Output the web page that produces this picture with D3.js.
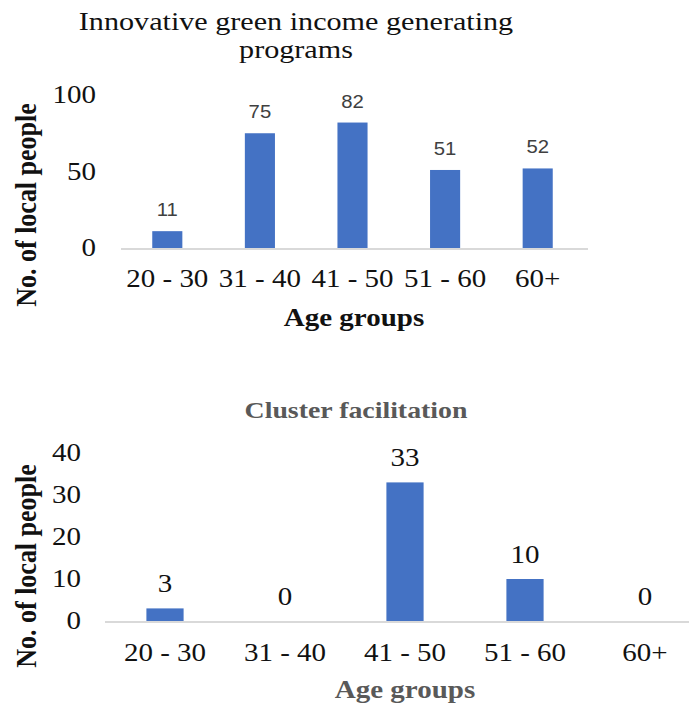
<!DOCTYPE html>
<html>
<head>
<meta charset="utf-8">
<script src="https://cdn.jsdelivr.net/npm/d3@7"></script>
<style>
  body { margin: 0; background: #fff; }
  svg { display: block; }
</style>
</head>
<body>
<div id="chart"></div>
<script>
const categories = ["20 - 30", "31 - 40", "41 - 50", "51 - 60", "60+"];
const greenIncomeValues = [11, 75, 82, 51, 52];
const clusterValues = [3, 0, 33, 10, 0];
const greenIncomeTicks = [0, 50, 100];
const clusterTicks = [0, 10, 20, 30, 40];
const titleTop = ["Innovative green income generating", "programs"];
const titleBottom = "Cluster facilitation";
const xTitle = "Age groups";
const yTitle = "No. of local people";

const W = 689, H = 706;
const SX = 1.16; // horizontal stretch of the reference's lettering
const svg = d3.select("#chart").append("svg").attr("width", W).attr("height", H);
const serif = "Liberation Serif";
const sans = "Liberation Sans";
const blue = "#4472C4";

// text placed at (x,y) with horizontal stretch
function stretchedText(g, x, y, txt) {
  return g.append("text").attr("transform", `translate(${x},${y}) scale(${SX},1)`).text(txt);
}

// ---------- Top chart ----------
(function () {
  const x = d3.scaleBand().domain(categories).range([121, 584]).paddingInner(0.675).paddingOuter(0.3375);
  const y = d3.scaleLinear().domain([0, 100]).range([248, 95]);
  const g = svg.append("g");

  titleTop.forEach((t, i) => {
    stretchedText(g, 296, 30 + i * 28, t)
      .attr("text-anchor", "middle").attr("font-family", serif).attr("font-size", 26).attr("fill", "#111");
  });

  const yAxis = d3.axisLeft(y).tickValues(greenIncomeTicks).tickSize(0).tickPadding(0).tickFormat(d3.format("d"));
  const ya = g.append("g").attr("transform", "translate(96,0)").call(yAxis);
  ya.select(".domain").remove();
  ya.selectAll("text").attr("font-family", serif).attr("font-size", 25).attr("fill", "#111")
    .attr("dy", "0.3em").attr("transform", `scale(${SX},1)`);

  g.selectAll("rect").data(greenIncomeValues).join("rect")
    .attr("x", (d, i) => x(categories[i])).attr("width", x.bandwidth())
    .attr("y", d => y(d)).attr("height", d => y(0) - y(d)).attr("fill", blue);

  g.append("line").attr("x1", 121).attr("x2", 588).attr("y1", y(0) + 1).attr("y2", y(0) + 1)
    .attr("stroke", "#d9d9d9").attr("stroke-width", 2);

  const xAxis = d3.axisBottom(x).tickSize(0).tickPadding(0);
  const xa = g.append("g").attr("transform", `translate(0,${y(0)})`).call(xAxis);
  xa.select(".domain").remove();
  xa.selectAll("text").attr("font-family", serif).attr("font-size", 25).attr("fill", "#111")
    .attr("dy", "1.55em").attr("transform", `scale(${SX},1)`);

  greenIncomeValues.forEach((d, i) => {
    stretchedText(g, x(categories[i]) + x.bandwidth() / 2, y(d) - 15, d)
      .attr("text-anchor", "middle").attr("font-family", sans).attr("font-size", 17.5).attr("fill", "#404040");
  });

  stretchedText(g, 354, 326, xTitle).attr("text-anchor", "middle")
    .attr("font-family", serif).attr("font-weight", "bold").attr("font-size", 25).attr("fill", "#111");

  g.append("text").attr("transform", `translate(36,205) rotate(-90) scale(1,${SX})`).attr("text-anchor", "middle")
    .attr("font-family", serif).attr("font-weight", "bold").attr("font-size", 26).attr("fill", "#111").text(yTitle);
})();

// ---------- Bottom chart ----------
(function () {
  const x = d3.scaleBand().domain(categories).range([105, 705]).paddingInner(0.69).paddingOuter(0.345);
  const y = d3.scaleLinear().domain([0, 40]).range([621, 453]);
  const g = svg.append("g");

  stretchedText(g, 356, 418, titleBottom).attr("text-anchor", "middle")
    .attr("font-family", serif).attr("font-weight", "bold").attr("font-size", 24).attr("fill", "#595959");

  const yAxis = d3.axisLeft(y).tickValues(clusterTicks).tickSize(0).tickPadding(0).tickFormat(d3.format("d"));
  const ya = g.append("g").attr("transform", "translate(81,0)").call(yAxis);
  ya.select(".domain").remove();
  ya.selectAll("text").attr("font-family", serif).attr("font-size", 25).attr("fill", "#111")
    .attr("dy", "0.3em").attr("transform", `scale(${SX},1)`);

  g.selectAll("rect").data(clusterValues).join("rect")
    .attr("x", (d, i) => x(categories[i])).attr("width", x.bandwidth())
    .attr("y", d => y(d)).attr("height", d => y(0) - y(d)).attr("fill", blue);

  g.append("line").attr("x1", 105).attr("x2", 689).attr("y1", y(0) + 1).attr("y2", y(0) + 1)
    .attr("stroke", "#d9d9d9").attr("stroke-width", 2);

  const xAxis = d3.axisBottom(x).tickSize(0).tickPadding(0);
  const xa = g.append("g").attr("transform", `translate(0,${y(0)})`).call(xAxis);
  xa.select(".domain").remove();
  xa.selectAll("text").attr("font-family", serif).attr("font-size", 25).attr("fill", "#111")
    .attr("dy", "1.6em").attr("transform", `scale(${SX},1)`);

  clusterValues.forEach((d, i) => {
    stretchedText(g, x(categories[i]) + x.bandwidth() / 2, y(d) - 16, d)
      .attr("text-anchor", "middle").attr("font-family", serif).attr("font-size", 25).attr("fill", "#111");
  });

  stretchedText(g, 405, 698, xTitle).attr("text-anchor", "middle")
    .attr("font-family", serif).attr("font-weight", "bold").attr("font-size", 25).attr("fill", "#595959");

  g.append("text").attr("transform", `translate(36,566) rotate(-90) scale(1,${SX})`).attr("text-anchor", "middle")
    .attr("font-family", serif).attr("font-weight", "bold").attr("font-size", 26).attr("fill", "#111").text(yTitle);
})();
</script>
</body>
</html>
